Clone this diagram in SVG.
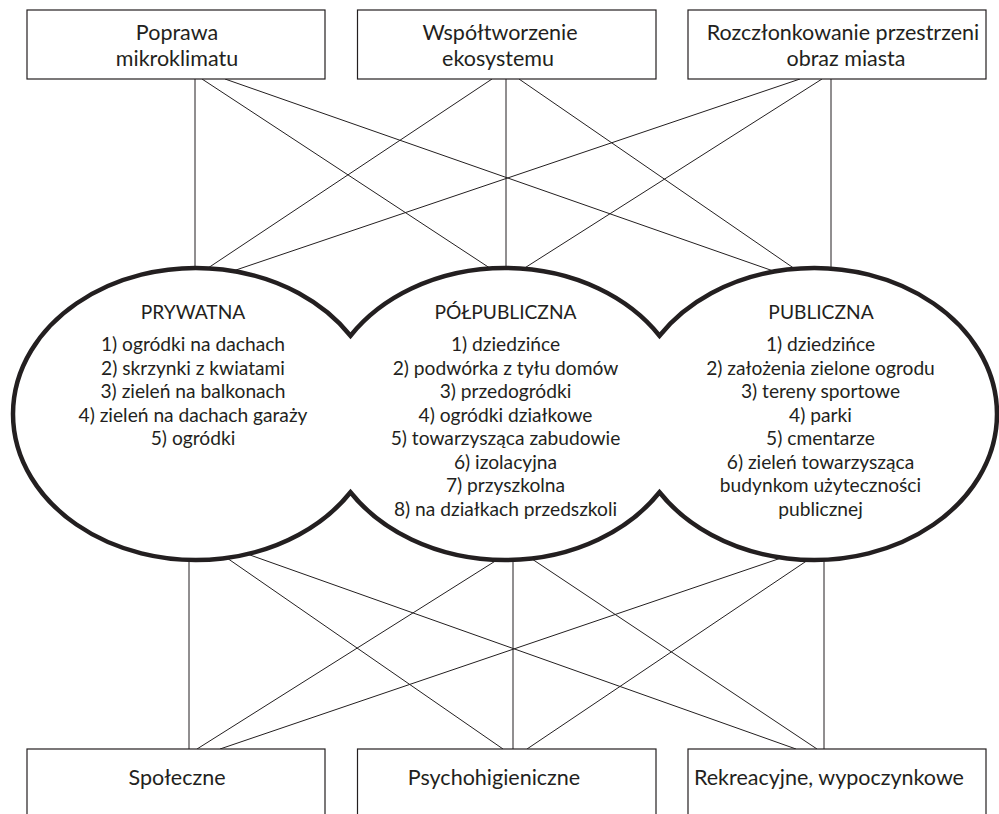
<svg xmlns="http://www.w3.org/2000/svg" width="999" height="814" viewBox="0 0 999 814">
<style>
.bg{fill:#ffffff}
.box{fill:#ffffff;stroke:#231f20;stroke-width:1.2}
.conn line{stroke:#231f20;stroke-width:1}
.zone{fill:#ffffff;stroke:#231f20;stroke-width:4.5;stroke-linejoin:miter;stroke-miterlimit:10}
text{font-family:Lato,"Open Sans","Liberation Sans",sans-serif;font-size:19.2px;fill:#231f20;text-anchor:middle}
.t{font-size:21.5px}
</style>
<rect class="bg" x="0" y="0" width="999" height="814"/>
<g id="connectors" class="conn">
<line x1="195" y1="79" x2="195" y2="280"/>
<line x1="202" y1="79" x2="505" y2="278"/>
<line x1="225" y1="79" x2="799" y2="280"/>
<line x1="492" y1="79" x2="193" y2="278"/>
<line x1="506" y1="79" x2="506" y2="280"/>
<line x1="519" y1="79" x2="809.5" y2="279"/>
<line x1="800" y1="79" x2="206.4" y2="280"/>
<line x1="822" y1="79" x2="507.3" y2="279"/>
<line x1="831" y1="79" x2="831" y2="280"/>
<line x1="189" y1="548" x2="189" y2="749"/>
<line x1="212.5" y1="548" x2="503" y2="749"/>
<line x1="219" y1="544" x2="796" y2="749"/>
<line x1="516" y1="548" x2="197" y2="749"/>
<line x1="513" y1="548" x2="513" y2="749"/>
<line x1="515.5" y1="548" x2="817" y2="749"/>
<line x1="816.4" y1="546" x2="220" y2="749"/>
<line x1="825.8" y1="548" x2="527" y2="749"/>
<line x1="824" y1="548" x2="824" y2="749"/>
</g>
<g id="zones-outline">
<path class="zone" d="M 350.5 335.75 A 183 146 0 1 0 350.5 492.25 A 183 146 0 0 0 659.5 492.25 A 183 146 0 1 0 659.5 335.75 A 183 146 0 0 0 350.5 335.75 Z"/>
</g>
<g id="top-1">
<rect class="box" x="27" y="10" width="298" height="69"/>
<text class="t" x="177" y="40">Poprawa</text>
<text class="t" x="177" y="66">mikroklimatu</text>
</g>
<g id="top-2">
<rect class="box" x="357.5" y="10" width="298.5" height="69"/>
<text class="t" x="500" y="40">Współtworzenie</text>
<text class="t" x="498" y="66">ekosystemu</text>
</g>
<g id="top-3">
<rect class="box" x="688" y="10" width="298" height="69"/>
<text class="t" x="843" y="40">Rozczłonkowanie przestrzeni</text>
<text class="t" x="846" y="66">obraz miasta</text>
</g>
<g id="prywatna">
<text x="193" y="319">PRYWATNA</text>
<text x="193" y="351">1) ogródki na dachach</text>
<text x="193" y="374.5">2) skrzynki z kwiatami</text>
<text x="193" y="398">3) zieleń na balkonach</text>
<text x="193" y="421.5">4) zieleń na dachach garaży</text>
<text x="193" y="445">5) ogródki</text>
</g>
<g id="polpubliczna">
<text x="505.5" y="319">PÓŁPUBLICZNA</text>
<text x="505.5" y="351">1) dziedzińce</text>
<text x="505.5" y="374.5">2) podwórka z tyłu domów</text>
<text x="505.5" y="398">3) przedogródki</text>
<text x="505.5" y="421.5">4) ogródki działkowe</text>
<text x="505.5" y="445">5) towarzysząca zabudowie</text>
<text x="505.5" y="468.5">6) izolacyjna</text>
<text x="505.5" y="492">7) przyszkolna</text>
<text x="505.5" y="515.5">8) na działkach przedszkoli</text>
</g>
<g id="publiczna">
<text x="821" y="319">PUBLICZNA</text>
<text x="820.5" y="351">1) dziedzińce</text>
<text x="820.5" y="374.5">2) założenia zielone ogrodu</text>
<text x="820.5" y="398">3) tereny sportowe</text>
<text x="820.5" y="421.5">4) parki</text>
<text x="820.5" y="445">5) cmentarze</text>
<text x="820.5" y="468.5">6) zieleń towarzysząca</text>
<text x="820.5" y="492">budynkom użyteczności</text>
<text x="820.5" y="515.5">publicznej</text>
</g>
<g id="bottom-1">
<rect class="box" x="27" y="749" width="298" height="100"/>
<text class="t" x="177" y="785">Społeczne</text>
</g>
<g id="bottom-2">
<rect class="box" x="357.5" y="749" width="298.5" height="100"/>
<text class="t" x="494" y="785">Psychohigieniczne</text>
</g>
<g id="bottom-3">
<rect class="box" x="688" y="749" width="298" height="100"/>
<text class="t" x="829" y="785">Rekreacyjne, wypoczynkowe</text>
</g>
</svg>
